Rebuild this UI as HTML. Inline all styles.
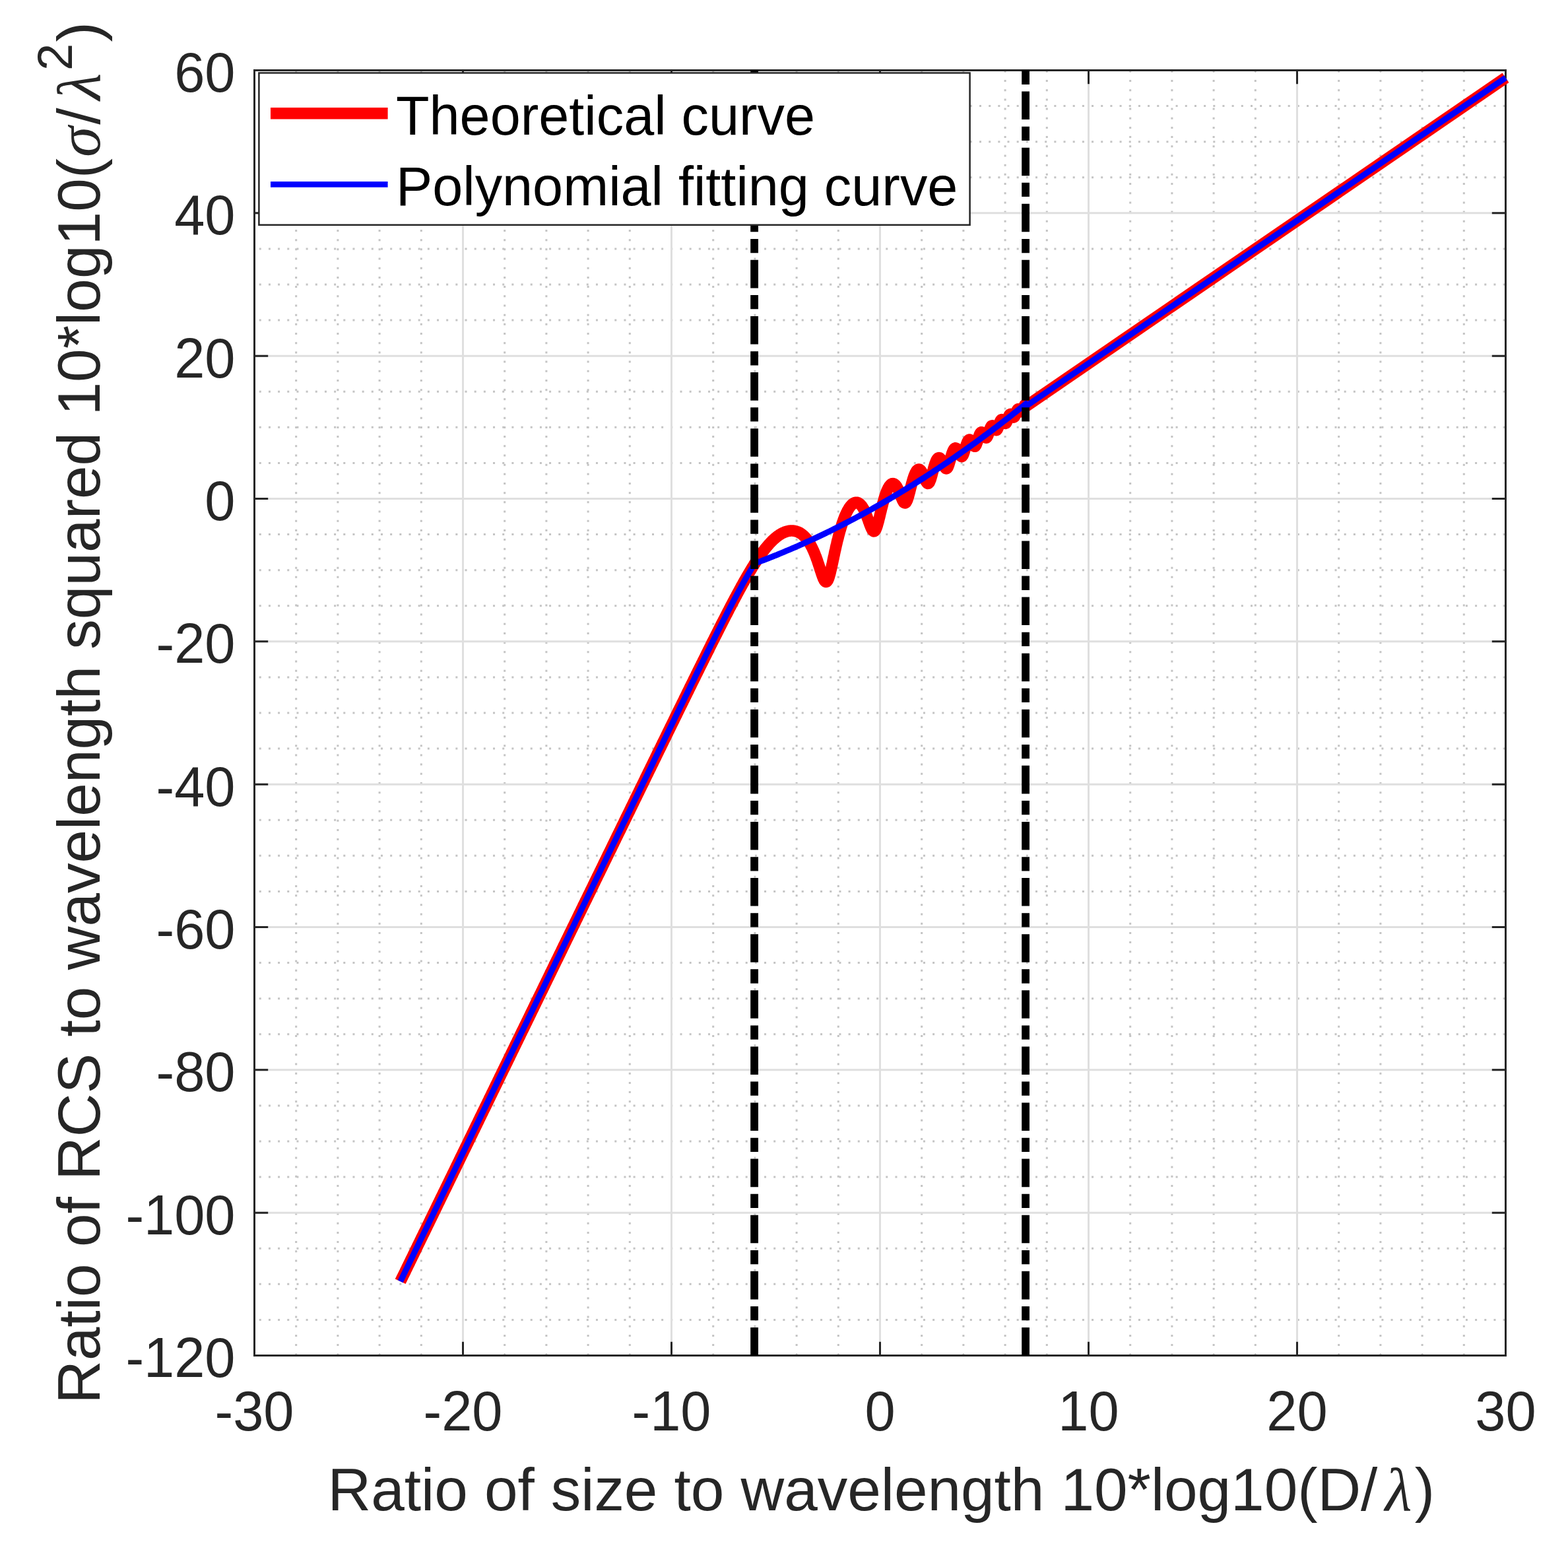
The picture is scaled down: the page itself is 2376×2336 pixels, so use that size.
<!DOCTYPE html><html><head><meta charset="utf-8"><title>RCS plot</title><style>html,body{margin:0;padding:0;background:#fff}svg{display:block}.t{font-family:"Liberation Sans",Arial,Helvetica,sans-serif;fill:#262626}.g{font-family:"Liberation Serif","Times New Roman",serif;font-style:italic}</style></head><body>
<svg width="2376" height="2336" viewBox="0 0 2376 2336">
<rect width="2376" height="2336" fill="#fff"/>
<path d="M448.70 2053.30V106.50M511.90 2053.30V106.50M575.10 2053.30V106.50M638.30 2053.30V106.50M764.70 2053.30V106.50M827.90 2053.30V106.50M891.10 2053.30V106.50M954.30 2053.30V106.50M1080.70 2053.30V106.50M1143.90 2053.30V106.50M1207.10 2053.30V106.50M1270.30 2053.30V106.50M1396.70 2053.30V106.50M1459.90 2053.30V106.50M1523.10 2053.30V106.50M1586.30 2053.30V106.50M1712.70 2053.30V106.50M1775.90 2053.30V106.50M1839.10 2053.30V106.50M1902.30 2053.30V106.50M2028.70 2053.30V106.50M2091.90 2053.30V106.50M2155.10 2053.30V106.50M2218.30 2053.30V106.50" stroke="#c4c4c4" stroke-width="3" fill="none" stroke-dasharray="3 11.186"/>
<path d="M392.75 1999.42H2281.50M392.75 1945.33H2281.50M392.75 1891.25H2281.50M392.75 1783.08H2281.50M392.75 1729.00H2281.50M392.75 1674.92H2281.50M392.75 1566.75H2281.50M392.75 1512.67H2281.50M392.75 1458.58H2281.50M392.75 1350.42H2281.50M392.75 1296.33H2281.50M392.75 1242.25H2281.50M392.75 1134.08H2281.50M392.75 1080.00H2281.50M392.75 1025.92H2281.50M392.75 917.75H2281.50M392.75 863.67H2281.50M392.75 809.58H2281.50M392.75 701.42H2281.50M392.75 647.33H2281.50M392.75 593.25H2281.50M392.75 485.08H2281.50M392.75 431.00H2281.50M392.75 376.92H2281.50M392.75 268.75H2281.50M392.75 214.67H2281.50M392.75 160.58H2281.50" stroke="#c4c4c4" stroke-width="3" fill="none" stroke-dasharray="3 11.172"/>
<path d="M701.50 106.50V2053.50M1017.50 106.50V2053.50M1333.50 106.50V2053.50M1649.50 106.50V2053.50M1965.50 106.50V2053.50M385.50 1837.17H2281.50M385.50 1620.83H2281.50M385.50 1404.50H2281.50M385.50 1188.17H2281.50M385.50 971.83H2281.50M385.50 755.50H2281.50M385.50 539.17H2281.50M385.50 322.83H2281.50" stroke="#dfdfdf" stroke-width="3" fill="none"/>
<path d="M385.50 2053.50V2032.80M385.50 106.50V127.20M701.50 2053.50V2032.80M701.50 106.50V127.20M1017.50 2053.50V2032.80M1017.50 106.50V127.20M1333.50 2053.50V2032.80M1333.50 106.50V127.20M1649.50 2053.50V2032.80M1649.50 106.50V127.20M1965.50 2053.50V2032.80M1965.50 106.50V127.20M2281.50 2053.50V2032.80M2281.50 106.50V127.20M385.50 2053.50H406.20M2281.50 2053.50H2260.80M385.50 1837.17H406.20M2281.50 1837.17H2260.80M385.50 1620.83H406.20M2281.50 1620.83H2260.80M385.50 1404.50H406.20M2281.50 1404.50H2260.80M385.50 1188.17H406.20M2281.50 1188.17H2260.80M385.50 971.83H406.20M2281.50 971.83H2260.80M385.50 755.50H406.20M2281.50 755.50H2260.80M385.50 539.17H406.20M2281.50 539.17H2260.80M385.50 322.83H406.20M2281.50 322.83H2260.80M385.50 106.50H406.20M2281.50 106.50H2260.80" stroke="#262626" stroke-width="3" fill="none"/>
<rect x="385.50" y="106.50" width="1896.00" height="1947.00" stroke="#262626" stroke-width="3" fill="none"/>
<text class="t" transform="translate(385.50 2167.20) scale(1 1.03)" font-size="83" text-anchor="middle">-30</text>
<text class="t" transform="translate(701.50 2167.20) scale(1 1.03)" font-size="83" text-anchor="middle">-20</text>
<text class="t" transform="translate(1017.50 2167.20) scale(1 1.03)" font-size="83" text-anchor="middle">-10</text>
<text class="t" transform="translate(1333.50 2167.20) scale(1 1.03)" font-size="83" text-anchor="middle">0</text>
<text class="t" transform="translate(1649.50 2167.20) scale(1 1.03)" font-size="83" text-anchor="middle">10</text>
<text class="t" transform="translate(1965.50 2167.20) scale(1 1.03)" font-size="83" text-anchor="middle">20</text>
<text class="t" transform="translate(2281.50 2167.20) scale(1 1.03)" font-size="83" text-anchor="middle">30</text>
<text class="t" transform="translate(356.50 2086.10) scale(1 1.03)" font-size="83" text-anchor="end">-120</text>
<text class="t" transform="translate(356.50 1869.77) scale(1 1.03)" font-size="83" text-anchor="end">-100</text>
<text class="t" transform="translate(356.50 1653.43) scale(1 1.03)" font-size="83" text-anchor="end">-80</text>
<text class="t" transform="translate(356.50 1437.10) scale(1 1.03)" font-size="83" text-anchor="end">-60</text>
<text class="t" transform="translate(356.50 1220.77) scale(1 1.03)" font-size="83" text-anchor="end">-40</text>
<text class="t" transform="translate(356.50 1004.43) scale(1 1.03)" font-size="83" text-anchor="end">-20</text>
<text class="t" transform="translate(356.50 788.10) scale(1 1.03)" font-size="83" text-anchor="end">0</text>
<text class="t" transform="translate(356.50 571.77) scale(1 1.03)" font-size="83" text-anchor="end">20</text>
<text class="t" transform="translate(356.50 355.43) scale(1 1.03)" font-size="83" text-anchor="end">40</text>
<text class="t" transform="translate(356.50 139.10) scale(1 1.03)" font-size="83" text-anchor="end">60</text>
<text class="t" y="2287.80" font-size="91"><tspan x="496.60" letter-spacing="-0.07">Ratio of size to wavelength 10*log10(D/</tspan><tspan class="g" x="2098.80" font-size="94">λ</tspan><tspan x="2143.70">)</tspan></text>
<text class="t" transform="translate(151.40 0) rotate(-90)" font-size="91"><tspan x="-2126.80">Ratio of RCS to wavelength squared 10*log10(</tspan><tspan class="g" x="-237.90" font-size="94">σ</tspan><tspan x="-188.70">/</tspan><tspan class="g" x="-151.50" font-size="94">λ</tspan><tspan x="-107.00" y="-42.30" font-size="74">2</tspan><tspan x="-63.60" y="0">)</tspan></text>
<path d="M606.7 1941.2L607.3 1939.9 608.0 1938.6 608.6 1937.3 609.2 1936.0 609.9 1934.7 610.5 1933.4 611.1 1932.1 611.8 1930.8 612.4 1929.6 613.0 1928.3 613.7 1927.0 614.3 1925.7 614.9 1924.4 615.5 1923.1 616.2 1921.8 616.8 1920.5 617.4 1919.2 618.1 1917.9 618.7 1916.6 619.3 1915.3 620.0 1914.0 620.6 1912.7 621.2 1911.4 621.9 1910.1 622.5 1908.8 623.1 1907.5 623.8 1906.2 624.4 1904.9 625.0 1903.6 625.7 1902.3 626.3 1901.0 626.9 1899.7 627.6 1898.4 628.2 1897.1 628.8 1895.8 629.5 1894.5 630.1 1893.2 630.7 1891.9 631.3 1890.6 632.0 1889.3 632.6 1888.0 633.2 1886.7 633.9 1885.4 634.5 1884.1 635.1 1882.8 635.8 1881.5 636.4 1880.2 637.0 1878.9 637.7 1877.6 638.3 1876.3 638.9 1875.0 639.6 1873.7 640.2 1872.4 640.8 1871.1 641.5 1869.8 642.1 1868.5 642.7 1867.2 643.4 1866.0 644.0 1864.7 644.6 1863.4 645.3 1862.1 645.9 1860.8 646.5 1859.5 647.1 1858.2 647.8 1856.9 648.4 1855.6 649.0 1854.3 649.7 1853.0 650.3 1851.7 650.9 1850.4 651.6 1849.1 652.2 1847.8 652.8 1846.5 653.5 1845.2 654.1 1843.9 654.7 1842.6 655.4 1841.3 656.0 1840.0 656.6 1838.7 657.3 1837.4 657.9 1836.1 658.5 1834.8 659.2 1833.5 659.8 1832.2 660.4 1830.9 661.1 1829.6 661.7 1828.3 662.3 1827.0 662.9 1825.7 663.6 1824.4 664.2 1823.1 664.8 1821.8 665.5 1820.5 666.1 1819.2 666.7 1817.9 667.4 1816.6 668.0 1815.3 668.6 1814.0 669.3 1812.7 669.9 1811.4 670.5 1810.1 671.2 1808.8 671.8 1807.5 672.4 1806.2 673.1 1804.9 673.7 1803.6 674.3 1802.4 675.0 1801.1 675.6 1799.8 676.2 1798.5 676.9 1797.2 677.5 1795.9 678.1 1794.6 678.7 1793.3 679.4 1792.0 680.0 1790.7 680.6 1789.4 681.3 1788.1 681.9 1786.8 682.5 1785.5 683.2 1784.2 683.8 1782.9 684.4 1781.6 685.1 1780.3 685.7 1779.0 686.3 1777.7 687.0 1776.4 687.6 1775.1 688.2 1773.8 688.9 1772.5 689.5 1771.2 690.1 1769.9 690.8 1768.6 691.4 1767.3 692.0 1766.0 692.7 1764.7 693.3 1763.4 693.9 1762.1 694.5 1760.8 695.2 1759.5 695.8 1758.2 696.4 1756.9 697.1 1755.6 697.7 1754.3 698.3 1753.0 699.0 1751.7 699.6 1750.4 700.2 1749.1 700.9 1747.8 701.5 1746.5 702.1 1745.2 702.8 1743.9 703.4 1742.6 704.0 1741.3 704.7 1740.0 705.3 1738.8 705.9 1737.5 706.6 1736.2 707.2 1734.9 707.8 1733.6 708.5 1732.3 709.1 1731.0 709.7 1729.7 710.3 1728.4 711.0 1727.1 711.6 1725.8 712.2 1724.5 712.9 1723.2 713.5 1721.9 714.1 1720.6 714.8 1719.3 715.4 1718.0 716.0 1716.7 716.7 1715.4 717.3 1714.1 717.9 1712.8 718.6 1711.5 719.2 1710.2 719.8 1708.9 720.5 1707.6 721.1 1706.3 721.7 1705.0 722.4 1703.7 723.0 1702.4 723.6 1701.1 724.3 1699.8 724.9 1698.5 725.5 1697.2 726.1 1695.9 726.8 1694.6 727.4 1693.3 728.0 1692.0 728.7 1690.7 729.3 1689.4 729.9 1688.1 730.6 1686.8 731.2 1685.5 731.8 1684.2 732.5 1682.9 733.1 1681.6 733.7 1680.3 734.4 1679.0 735.0 1677.8 735.6 1676.5 736.3 1675.2 736.9 1673.9 737.5 1672.6 738.2 1671.3 738.8 1670.0 739.4 1668.7 740.1 1667.4 740.7 1666.1 741.3 1664.8 741.9 1663.5 742.6 1662.2 743.2 1660.9 743.8 1659.6 744.5 1658.3 745.1 1657.0 745.7 1655.7 746.4 1654.4 747.0 1653.1 747.6 1651.8 748.3 1650.5 748.9 1649.2 749.5 1647.9 750.2 1646.6 750.8 1645.3 751.4 1644.0 752.1 1642.7 752.7 1641.4 753.3 1640.1 754.0 1638.8 754.6 1637.5 755.2 1636.2 755.9 1634.9 756.5 1633.6 757.1 1632.3 757.7 1631.0 758.4 1629.7 759.0 1628.4 759.6 1627.1 760.3 1625.8 760.9 1624.5 761.5 1623.2 762.2 1621.9 762.8 1620.6 763.4 1619.3 764.1 1618.0 764.7 1616.8 765.3 1615.5 766.0 1614.2 766.6 1612.9 767.2 1611.6 767.9 1610.3 768.5 1609.0 769.1 1607.7 769.8 1606.4 770.4 1605.1 771.0 1603.8 771.7 1602.5 772.3 1601.2 772.9 1599.9 773.5 1598.6 774.2 1597.3 774.8 1596.0 775.4 1594.7 776.1 1593.4 776.7 1592.1 777.3 1590.8 778.0 1589.5 778.6 1588.2 779.2 1586.9 779.9 1585.6 780.5 1584.3 781.1 1583.0 781.8 1581.7 782.4 1580.4 783.0 1579.1 783.7 1577.8 784.3 1576.5 784.9 1575.2 785.6 1573.9 786.2 1572.6 786.8 1571.3 787.5 1570.0 788.1 1568.7 788.7 1567.4 789.3 1566.1 790.0 1564.8 790.6 1563.5 791.2 1562.2 791.9 1560.9 792.5 1559.7 793.1 1558.4 793.8 1557.1 794.4 1555.8 795.0 1554.5 795.7 1553.2 796.3 1551.9 796.9 1550.6 797.6 1549.3 798.2 1548.0 798.8 1546.7 799.5 1545.4 800.1 1544.1 800.7 1542.8 801.4 1541.5 802.0 1540.2 802.6 1538.9 803.3 1537.6 803.9 1536.3 804.5 1535.0 805.1 1533.7 805.8 1532.4 806.4 1531.1 807.0 1529.8 807.7 1528.5 808.3 1527.2 808.9 1525.9 809.6 1524.6 810.2 1523.3 810.8 1522.0 811.5 1520.7 812.1 1519.4 812.7 1518.1 813.4 1516.8 814.0 1515.5 814.6 1514.2 815.3 1512.9 815.9 1511.6 816.5 1510.3 817.2 1509.0 817.8 1507.7 818.4 1506.4 819.1 1505.1 819.7 1503.9 820.3 1502.6 820.9 1501.3 821.6 1500.0 822.2 1498.7 822.8 1497.4 823.5 1496.1 824.1 1494.8 824.7 1493.5 825.4 1492.2 826.0 1490.9 826.6 1489.6 827.3 1488.3 827.9 1487.0 828.5 1485.7 829.2 1484.4 829.8 1483.1 830.4 1481.8 831.1 1480.5 831.7 1479.2 832.3 1477.9 833.0 1476.6 833.6 1475.3 834.2 1474.0 834.9 1472.7 835.5 1471.4 836.1 1470.1 836.7 1468.8 837.4 1467.5 838.0 1466.2 838.6 1464.9 839.3 1463.6 839.9 1462.3 840.5 1461.0 841.2 1459.7 841.8 1458.4 842.4 1457.1 843.1 1455.8 843.7 1454.5 844.3 1453.3 845.0 1452.0 845.6 1450.7 846.2 1449.4 846.9 1448.1 847.5 1446.8 848.1 1445.5 848.8 1444.2 849.4 1442.9 850.0 1441.6 850.7 1440.3 851.3 1439.0 851.9 1437.7 852.5 1436.4 853.2 1435.1 853.8 1433.8 854.4 1432.5 855.1 1431.2 855.7 1429.9 856.3 1428.6 857.0 1427.3 857.6 1426.0 858.2 1424.7 858.9 1423.4 859.5 1422.1 860.1 1420.8 860.8 1419.5 861.4 1418.2 862.0 1416.9 862.7 1415.6 863.3 1414.3 863.9 1413.0 864.6 1411.7 865.2 1410.4 865.8 1409.1 866.5 1407.8 867.1 1406.6 867.7 1405.3 868.3 1404.0 869.0 1402.7 869.6 1401.4 870.2 1400.1 870.9 1398.8 871.5 1397.5 872.1 1396.2 872.8 1394.9 873.4 1393.6 874.0 1392.3 874.7 1391.0 875.3 1389.7 875.9 1388.4 876.6 1387.1 877.2 1385.8 877.8 1384.5 878.5 1383.2 879.1 1381.9 879.7 1380.6 880.4 1379.3 881.0 1378.0 881.6 1376.7 882.3 1375.4 882.9 1374.1 883.5 1372.8 884.1 1371.5 884.8 1370.2 885.4 1368.9 886.0 1367.6 886.7 1366.3 887.3 1365.0 887.9 1363.8 888.6 1362.5 889.2 1361.2 889.8 1359.9 890.5 1358.6 891.1 1357.3 891.7 1356.0 892.4 1354.7 893.0 1353.4 893.6 1352.1 894.3 1350.8 894.9 1349.5 895.5 1348.2 896.2 1346.9 896.8 1345.6 897.4 1344.3 898.1 1343.0 898.7 1341.7 899.3 1340.4 899.9 1339.1 900.6 1337.8 901.2 1336.5 901.8 1335.2 902.5 1333.9 903.1 1332.6 903.7 1331.3 904.4 1330.0 905.0 1328.7 905.6 1327.4 906.3 1326.1 906.9 1324.9 907.5 1323.6 908.2 1322.3 908.8 1321.0 909.4 1319.7 910.1 1318.4 910.7 1317.1 911.3 1315.8 912.0 1314.5 912.6 1313.2 913.2 1311.9 913.9 1310.6 914.5 1309.3 915.1 1308.0 915.7 1306.7 916.4 1305.4 917.0 1304.1 917.6 1302.8 918.3 1301.5 918.9 1300.2 919.5 1298.9 920.2 1297.6 920.8 1296.3 921.4 1295.0 922.1 1293.7 922.7 1292.4 923.3 1291.1 924.0 1289.9 924.6 1288.6 925.2 1287.3 925.9 1286.0 926.5 1284.7 927.1 1283.4 927.8 1282.1 928.4 1280.8 929.0 1279.5 929.7 1278.2 930.3 1276.9 930.9 1275.6 931.5 1274.3 932.2 1273.0 932.8 1271.7 933.4 1270.4 934.1 1269.1 934.7 1267.8 935.3 1266.5 936.0 1265.2 936.6 1263.9 937.2 1262.6 937.9 1261.3 938.5 1260.1 939.1 1258.8 939.8 1257.5 940.4 1256.2 941.0 1254.9 941.7 1253.6 942.3 1252.3 942.9 1251.0 943.6 1249.7 944.2 1248.4 944.8 1247.1 945.5 1245.8 946.1 1244.5 946.7 1243.2 947.3 1241.9 948.0 1240.6 948.6 1239.3 949.2 1238.0 949.9 1236.7 950.5 1235.4 951.1 1234.1 951.8 1232.9 952.4 1231.6 953.0 1230.3 953.7 1229.0 954.3 1227.7 954.9 1226.4 955.6 1225.1 956.2 1223.8 956.8 1222.5 957.5 1221.2 958.1 1219.9 958.7 1218.6 959.4 1217.3 960.0 1216.0 960.6 1214.7 961.3 1213.4 961.9 1212.1 962.5 1210.8 963.1 1209.5 963.8 1208.3 964.4 1207.0 965.0 1205.7 965.7 1204.4 966.3 1203.1 966.9 1201.8 967.6 1200.5 968.2 1199.2 968.8 1197.9 969.5 1196.6 970.1 1195.3 970.7 1194.0 971.4 1192.7 972.0 1191.4 972.6 1190.1 973.3 1188.8 973.9 1187.6 974.5 1186.3 975.2 1185.0 975.8 1183.7 976.4 1182.4 977.1 1181.1 977.7 1179.8 978.3 1178.5 978.9 1177.2 979.6 1175.9 980.2 1174.6 980.8 1173.3 981.5 1172.0 982.1 1170.7 982.7 1169.4 983.4 1168.1 984.0 1166.9 984.6 1165.6 985.3 1164.3 985.9 1163.0 986.5 1161.7 987.2 1160.4 987.8 1159.1 988.4 1157.8 989.1 1156.5 989.7 1155.2 990.3 1153.9 991.0 1152.6 991.6 1151.3 992.2 1150.1 992.9 1148.8 993.5 1147.5 994.1 1146.2 994.7 1144.9 995.4 1143.6 996.0 1142.3 996.6 1141.0 997.3 1139.7 997.9 1138.4 998.5 1137.1 999.2 1135.8 999.8 1134.6 1000.4 1133.3 1001.1 1132.0 1001.7 1130.7 1002.3 1129.4 1003.0 1128.1 1003.6 1126.8 1004.2 1125.5 1004.9 1124.2 1005.5 1122.9 1006.1 1121.6 1006.8 1120.3 1007.4 1119.1 1008.0 1117.8 1008.7 1116.5 1009.3 1115.2 1009.9 1113.9 1010.5 1112.6 1011.2 1111.3 1011.8 1110.0 1012.4 1108.7 1013.1 1107.4 1013.7 1106.2 1014.3 1104.9 1015.0 1103.6 1015.6 1102.3 1016.2 1101.0 1016.9 1099.7 1017.5 1098.4 1018.1 1097.1 1018.8 1095.8 1019.4 1094.6 1020.0 1093.3 1020.7 1092.0 1021.3 1090.7 1021.9 1089.4 1022.6 1088.1 1023.2 1086.8 1023.8 1085.5 1024.5 1084.2 1025.1 1083.0 1025.7 1081.7 1026.3 1080.4 1027.0 1079.1 1027.6 1077.8 1028.2 1076.5 1028.9 1075.2 1029.5 1073.9 1030.1 1072.7 1030.8 1071.4 1031.4 1070.1 1032.0 1068.8 1032.7 1067.5 1033.3 1066.2 1033.9 1064.9 1034.6 1063.7 1035.2 1062.4 1035.8 1061.1 1036.5 1059.8 1037.1 1058.5 1037.7 1057.2 1038.4 1055.9 1039.0 1054.7 1039.6 1053.4 1040.3 1052.1 1040.9 1050.8 1041.5 1049.5 1042.1 1048.2 1042.8 1047.0 1043.4 1045.7 1044.0 1044.4 1044.7 1043.1 1045.3 1041.8 1045.9 1040.5 1046.6 1039.3 1047.2 1038.0 1047.8 1036.7 1048.5 1035.4 1049.1 1034.1 1049.7 1032.9 1050.4 1031.6 1051.0 1030.3 1051.6 1029.0 1052.3 1027.7 1052.9 1026.5 1053.5 1025.2 1054.2 1023.9 1054.8 1022.6 1055.4 1021.3 1056.1 1020.1 1056.7 1018.8 1057.3 1017.5 1057.9 1016.2 1058.6 1015.0 1059.2 1013.7 1059.8 1012.4 1060.5 1011.1 1061.1 1009.8 1061.7 1008.6 1062.4 1007.3 1063.0 1006.0 1063.6 1004.8 1064.3 1003.5 1064.9 1002.2 1065.5 1000.9 1066.2 999.7 1066.8 998.4 1067.4 997.1 1068.1 995.8 1068.7 994.6 1069.3 993.3 1070.0 992.0 1070.6 990.8 1071.2 989.5 1071.9 988.2 1072.5 987.0 1073.1 985.7 1073.7 984.4 1074.4 983.2 1075.0 981.9 1075.6 980.6 1076.3 979.4 1076.9 978.1 1077.5 976.8 1078.2 975.6 1078.8 974.3 1079.4 973.0 1080.1 971.8 1080.7 970.5 1081.3 969.3 1082.0 968.0 1082.6 966.8 1083.2 965.5 1083.9 964.2 1084.5 963.0 1085.1 961.7 1085.8 960.5 1086.4 959.2 1087.0 958.0 1087.7 956.7 1088.3 955.5 1088.9 954.2 1089.5 953.0 1090.2 951.7 1090.8 950.5 1091.4 949.2 1092.1 948.0 1092.7 946.7 1093.3 945.5 1094.0 944.3 1094.6 943.0 1095.2 941.8 1095.9 940.5 1096.5 939.3 1097.1 938.1 1097.8 936.8 1098.4 935.6 1099.0 934.4 1099.7 933.1 1100.3 931.9 1100.9 930.7 1101.6 929.5 1102.2 928.2 1102.8 927.0 1103.5 925.8 1104.1 924.6 1104.7 923.4 1105.3 922.1 1106.0 920.9 1106.6 919.7 1107.2 918.5 1107.9 917.3 1108.5 916.1 1109.1 914.9 1109.8 913.7 1110.4 912.5 1111.0 911.3 1111.7 910.1 1112.3 908.9 1112.9 907.7 1113.6 906.5 1114.2 905.3 1114.8 904.1 1115.5 903.0 1116.1 901.8 1116.7 900.6 1117.4 899.4 1118.0 898.2 1118.6 897.1 1119.3 895.9 1119.9 894.8 1120.5 893.6 1121.1 892.4 1121.8 891.3 1122.4 890.1 1123.0 889.0 1123.7 887.8 1124.3 886.7 1124.9 885.6 1125.6 884.4 1126.2 883.3 1126.8 882.2 1127.5 881.0 1128.1 879.9 1128.7 878.8 1129.4 877.7 1130.0 876.6 1130.6 875.5 1131.3 874.4 1131.9 873.3 1132.5 872.2 1133.2 871.1 1133.8 870.0 1134.4 869.0 1135.1 867.9 1135.7 866.8 1136.3 865.8 1136.9 864.7 1137.6 863.7 1138.2 862.6 1138.8 861.6 1139.5 860.5 1140.1 859.5 1140.7 858.5 1141.4 857.5 1142.0 856.5 1142.6 855.4 1143.3 854.4 1143.9 853.5 1144.5 852.5 1145.2 851.5 1145.8 850.5 1146.4 849.6 1147.1 848.6 1147.7 847.6 1148.3 846.7 1149.0 845.8 1149.6 844.8 1150.2 843.9 1150.9 843.0 1151.5 842.1 1152.1 841.2 1152.7 840.3 1153.4 839.4 1154.0 838.5 1154.6 837.7 1155.3 836.8 1155.9 836.0 1156.5 835.1 1157.2 834.3 1157.8 833.5 1158.4 832.6 1159.1 831.8 1159.7 831.0 1160.3 830.3 1161.0 829.5 1161.6 828.7 1162.2 828.0 1162.9 827.2 1163.5 826.5 1164.1 825.7 1164.8 825.0 1165.4 824.3 1166.0 823.6 1166.7 822.9 1167.3 822.3 1167.9 821.6 1168.5 820.9 1169.2 820.3 1169.8 819.7 1170.4 819.0 1171.1 818.4 1171.7 817.8 1172.3 817.2 1173.0 816.7 1173.6 816.1 1174.2 815.5 1174.9 815.0 1175.5 814.5 1176.1 814.0 1176.8 813.4 1177.4 813.0 1178.0 812.5 1178.7 812.0 1179.3 811.5 1179.9 811.1 1180.6 810.7 1181.2 810.3 1181.8 809.8 1182.5 809.5 1183.1 809.1 1183.7 808.7 1184.3 808.3 1185.0 808.0 1185.6 807.7 1186.2 807.4 1186.9 807.1 1187.5 806.8 1188.1 806.5 1188.8 806.2 1189.4 806.0 1190.0 805.8 1190.7 805.5 1191.3 805.3 1191.9 805.1 1192.6 805.0 1193.2 804.8 1193.8 804.6 1194.5 804.5 1195.1 804.4 1195.7 804.3 1196.4 804.2 1197.0 804.1 1197.6 804.1 1198.3 804.0 1198.9 804.0 1199.5 804.0 1200.1 804.0 1200.8 804.0 1201.4 804.0 1202.0 804.1 1202.7 804.2 1203.3 804.3 1203.9 804.4 1204.6 804.5 1205.2 804.6 1205.8 804.8 1206.5 805.0 1207.1 805.2 1207.7 805.4 1208.4 805.6 1209.0 805.9 1209.6 806.1 1210.3 806.4 1210.9 806.7 1211.5 807.1 1212.2 807.4 1212.8 807.8 1213.4 808.2 1214.1 808.6 1214.7 809.1 1215.3 809.5 1215.9 810.0 1216.6 810.6 1217.2 811.1 1217.8 811.7 1218.5 812.3 1219.1 812.9 1219.7 813.5 1220.4 814.2 1221.0 814.9 1221.6 815.7 1222.3 816.4 1222.9 817.2 1223.5 818.1 1224.2 818.9 1224.8 819.8 1225.4 820.8 1226.1 821.7 1226.7 822.8 1227.3 823.8 1228.0 824.9 1228.6 826.0 1229.2 827.2 1229.9 828.4 1230.5 829.6 1231.1 830.9 1231.7 832.2 1232.4 833.6 1233.0 835.0 1233.6 836.5 1234.3 838.0 1234.9 839.6 1235.5 841.2 1236.2 842.8 1236.8 844.5 1237.4 846.2 1238.1 848.0 1238.7 849.8 1239.3 851.7 1240.0 853.6 1240.6 855.5 1241.2 857.4 1241.9 859.4 1242.5 861.4 1243.1 863.3 1243.8 865.3 1244.4 867.2 1245.0 869.1 1245.7 871.0 1246.3 872.7 1246.9 874.4 1247.5 876.0 1248.2 877.4 1248.8 878.6 1249.4 879.7 1250.1 880.5 1250.7 881.1 1251.3 881.4 1252.0 881.4 1252.6 881.2 1253.2 880.6 1253.9 879.8 1254.5 878.7 1255.1 877.2 1255.8 875.6 1256.4 873.7 1257.0 871.5 1257.7 869.2 1258.3 866.7 1258.9 864.1 1259.6 861.4 1260.2 858.6 1260.8 855.7 1261.5 852.8 1262.1 849.8 1262.7 846.9 1263.3 843.9 1264.0 841.0 1264.6 838.0 1265.2 835.1 1265.9 832.3 1266.5 829.4 1267.1 826.6 1267.8 823.9 1268.4 821.2 1269.0 818.6 1269.7 816.1 1270.3 813.6 1270.9 811.1 1271.6 808.8 1272.2 806.4 1272.8 804.2 1273.5 802.0 1274.1 799.9 1274.7 797.8 1275.4 795.8 1276.0 793.8 1276.6 791.9 1277.3 790.1 1277.9 788.3 1278.5 786.6 1279.1 785.0 1279.8 783.4 1280.4 781.8 1281.0 780.4 1281.7 778.9 1282.3 777.6 1282.9 776.3 1283.6 775.0 1284.2 773.8 1284.8 772.7 1285.5 771.6 1286.1 770.5 1286.7 769.5 1287.4 768.6 1288.0 767.7 1288.6 766.9 1289.3 766.2 1289.9 765.4 1290.5 764.8 1291.2 764.2 1291.8 763.6 1292.4 763.1 1293.1 762.7 1293.7 762.3 1294.3 762.0 1294.9 761.7 1295.6 761.5 1296.2 761.4 1296.8 761.3 1297.5 761.2 1298.1 761.2 1298.7 761.3 1299.4 761.5 1300.0 761.7 1300.6 761.9 1301.3 762.3 1301.9 762.7 1302.5 763.1 1303.2 763.6 1303.8 764.2 1304.4 764.9 1305.1 765.6 1305.7 766.4 1306.3 767.3 1307.0 768.3 1307.6 769.3 1308.2 770.3 1308.9 771.5 1309.5 772.7 1310.1 774.0 1310.7 775.4 1311.4 776.8 1312.0 778.3 1312.6 779.9 1313.3 781.5 1313.9 783.1 1314.5 784.8 1315.2 786.5 1315.8 788.3 1316.4 790.1 1317.1 791.8 1317.7 793.6 1318.3 795.3 1319.0 796.9 1319.6 798.5 1320.2 799.9 1320.9 801.3 1321.5 802.4 1322.1 803.4 1322.8 804.1 1323.4 804.6 1324.0 804.9 1324.7 804.8 1325.3 804.5 1325.9 803.9 1326.5 803.0 1327.2 801.8 1327.8 800.4 1328.4 798.7 1329.1 796.8 1329.7 794.7 1330.3 792.5 1331.0 790.2 1331.6 787.7 1332.2 785.2 1332.9 782.6 1333.5 780.0 1334.1 777.3 1334.8 774.7 1335.4 772.1 1336.0 769.6 1336.7 767.1 1337.3 764.6 1337.9 762.2 1338.6 759.9 1339.2 757.7 1339.8 755.5 1340.5 753.4 1341.1 751.4 1341.7 749.6 1342.3 747.7 1343.0 746.0 1343.6 744.4 1344.2 742.9 1344.9 741.5 1345.5 740.2 1346.1 739.0 1346.8 737.9 1347.4 736.9 1348.0 736.0 1348.7 735.2 1349.3 734.5 1349.9 733.9 1350.6 733.4 1351.2 733.1 1351.8 732.8 1352.5 732.7 1353.1 732.6 1353.7 732.7 1354.4 732.9 1355.0 733.2 1355.6 733.6 1356.3 734.1 1356.9 734.8 1357.5 735.5 1358.1 736.4 1358.8 737.4 1359.4 738.4 1360.0 739.6 1360.7 740.9 1361.3 742.2 1361.9 743.7 1362.6 745.2 1363.2 746.7 1363.8 748.3 1364.5 750.0 1365.1 751.6 1365.7 753.2 1366.4 754.8 1367.0 756.3 1367.6 757.7 1368.3 759.0 1368.9 760.1 1369.5 761.0 1370.2 761.6 1370.8 762.0 1371.4 762.0 1372.1 761.8 1372.7 761.3 1373.3 760.4 1373.9 759.3 1374.6 757.8 1375.2 756.2 1375.8 754.3 1376.5 752.2 1377.1 749.9 1377.7 747.6 1378.4 745.2 1379.0 742.7 1379.6 740.2 1380.3 737.7 1380.9 735.3 1381.5 732.9 1382.2 730.6 1382.8 728.4 1383.4 726.2 1384.1 724.2 1384.7 722.3 1385.3 720.6 1386.0 719.0 1386.6 717.5 1387.2 716.1 1387.9 715.0 1388.5 713.9 1389.1 713.0 1389.7 712.3 1390.4 711.8 1391.0 711.4 1391.6 711.1 1392.3 711.0 1392.9 711.1 1393.5 711.4 1394.2 711.8 1394.8 712.3 1395.4 713.0 1396.1 713.9 1396.7 714.8 1397.3 716.0 1398.0 717.2 1398.6 718.5 1399.2 720.0 1399.9 721.4 1400.5 723.0 1401.1 724.5 1401.8 726.0 1402.4 727.5 1403.0 728.8 1403.7 730.0 1404.3 731.0 1404.9 731.8 1405.5 732.3 1406.2 732.5 1406.8 732.3 1407.4 731.8 1408.1 731.0 1408.7 729.8 1409.3 728.3 1410.0 726.6 1410.6 724.6 1411.2 722.5 1411.9 720.2 1412.5 717.9 1413.1 715.5 1413.8 713.1 1414.4 710.8 1415.0 708.5 1415.7 706.4 1416.3 704.3 1416.9 702.4 1417.6 700.7 1418.2 699.1 1418.8 697.7 1419.5 696.5 1420.1 695.5 1420.7 694.7 1421.3 694.1 1422.0 693.8 1422.6 693.6 1423.2 693.6 1423.9 693.8 1424.5 694.3 1425.1 694.9 1425.8 695.7 1426.4 696.6 1427.0 697.8 1427.7 699.0 1428.3 700.4 1428.9 701.8 1429.6 703.2 1430.2 704.6 1430.8 706.0 1431.5 707.2 1432.1 708.3 1432.7 709.1 1433.4 709.7 1434.0 709.9 1434.6 709.7 1435.3 709.2 1435.9 708.3 1436.5 707.1 1437.1 705.5 1437.8 703.7 1438.4 701.6 1439.0 699.5 1439.7 697.2 1440.3 694.9 1440.9 692.7 1441.6 690.5 1442.2 688.4 1442.8 686.5 1443.5 684.7 1444.1 683.2 1444.7 681.9 1445.4 680.8 1446.0 679.9 1446.6 679.3 1447.3 678.9 1447.9 678.8 1448.5 679.0 1449.2 679.3 1449.8 679.9 1450.4 680.7 1451.1 681.7 1451.7 682.9 1452.3 684.1 1452.9 685.5 1453.6 686.8 1454.2 688.1 1454.8 689.3 1455.5 690.4 1456.1 691.1 1456.7 691.6 1457.4 691.6 1458.0 691.3 1458.6 690.6 1459.3 689.5 1459.9 688.0 1460.5 686.3 1461.2 684.3 1461.8 682.2 1462.4 680.0 1463.1 677.8 1463.7 675.7 1464.3 673.7 1465.0 671.9 1465.6 670.3 1466.2 668.9 1466.9 667.8 1467.5 666.9 1468.1 666.4 1468.7 666.1 1469.4 666.1 1470.0 666.4 1470.6 667.0 1471.3 667.7 1471.9 668.7 1472.5 669.9 1473.2 671.1 1473.8 672.4 1474.4 673.6 1475.1 674.7 1475.7 675.6 1476.3 676.1 1477.0 676.3 1477.6 676.2 1478.2 675.5 1478.9 674.5 1479.5 673.1 1480.1 671.4 1480.8 669.5 1481.4 667.4 1482.0 665.3 1482.7 663.2 1483.3 661.3 1483.9 659.5 1484.5 658.0 1485.2 656.8 1485.8 655.8 1486.4 655.2 1487.1 654.9 1487.7 654.9 1488.3 655.2 1489.0 655.8 1489.6 656.6 1490.2 657.6 1490.9 658.8 1491.5 659.9 1492.1 661.1 1492.8 662.0 1493.4 662.8 1494.0 663.2 1494.7 663.1 1495.3 662.7 1495.9 661.7 1496.6 660.4 1497.2 658.8 1497.8 656.9 1498.5 654.9 1499.1 652.9 1499.7 651.0 1500.3 649.2 1501.0 647.7 1501.6 646.5 1502.2 645.5 1502.9 645.0 1503.5 644.8 1504.1 644.9 1504.8 645.3 1505.4 646.1 1506.0 647.0 1506.7 648.1 1507.3 649.2 1507.9 650.2 1508.6 651.0 1509.2 651.5 1509.8 651.6 1510.5 651.3 1511.1 650.5 1511.7 649.3 1512.4 647.7 1513.0 645.9 1513.6 644.0 1514.3 642.1 1514.9 640.3 1515.5 638.7 1516.1 637.4 1516.8 636.4 1517.4 635.8 1518.0 635.6 1518.7 635.8 1519.3 636.3 1519.9 637.1 1520.6 638.0 1521.2 639.0 1521.8 640.0 1522.5 640.8 1523.1 641.3 1523.7 641.4 1524.4 641.0 1525.0 640.1 1525.6 638.8 1526.3 637.2 1526.9 635.4 1527.5 633.5 1528.2 631.8 1528.8 630.2 1529.4 628.9 1530.1 628.0 1530.7 627.5 1531.3 627.3 1531.9 627.6 1532.6 628.2 1533.2 629.0 1533.8 629.9 1534.5 630.8 1535.1 631.6 1535.7 632.1 1536.4 632.1 1537.0 631.6 1537.6 630.7 1538.3 629.4 1538.9 627.7 1539.5 625.9 1540.2 624.2 1540.8 622.6 1541.4 621.3 1542.1 620.3 1542.7 619.8 1543.3 619.7 1544.0 619.9 1544.6 620.5 1545.2 621.4 1545.9 622.2 1546.5 623.0 1547.1 623.6 1547.7 623.7 1548.4 623.4 1549.0 622.5 1549.6 621.3 1550.3 619.7 1550.9 618.0 1551.5 616.3 1552.2 614.8 1552.8 613.6 1553.4 612.9 1554.1 612.6 1554.7 612.7 1554.7 615.4 2281.5 117.8" stroke="#ff0000" stroke-width="17.6" fill="none" stroke-linejoin="round" stroke-linecap="butt"/>
<path d="M606.7 1941.2L608.3 1938.0 609.9 1934.7 611.4 1931.5 613.0 1928.3 614.6 1925.0 616.2 1921.8 617.8 1918.5 619.3 1915.3 620.9 1912.0 622.5 1908.8 624.1 1905.5 625.7 1902.3 627.2 1899.0 628.8 1895.8 630.4 1892.6 632.0 1889.3 633.6 1886.1 635.1 1882.8 636.7 1879.6 638.3 1876.3 639.9 1873.1 641.5 1869.8 643.0 1866.6 644.6 1863.4 646.2 1860.1 647.8 1856.9 649.4 1853.6 650.9 1850.4 652.5 1847.1 654.1 1843.9 655.7 1840.6 657.3 1837.4 658.8 1834.1 660.4 1830.9 662.0 1827.7 663.6 1824.4 665.2 1821.2 666.7 1817.9 668.3 1814.7 669.9 1811.4 671.5 1808.2 673.1 1804.9 674.6 1801.7 676.2 1798.5 677.8 1795.2 679.4 1792.0 681.0 1788.7 682.5 1785.5 684.1 1782.2 685.7 1779.0 687.3 1775.7 688.9 1772.5 690.4 1769.3 692.0 1766.0 693.6 1762.8 695.2 1759.5 696.8 1756.3 698.3 1753.0 699.9 1749.8 701.5 1746.5 703.1 1743.3 704.7 1740.0 706.2 1736.8 707.8 1733.6 709.4 1730.3 711.0 1727.1 712.6 1723.8 714.1 1720.6 715.7 1717.3 717.3 1714.1 718.9 1710.8 720.5 1707.6 722.0 1704.4 723.6 1701.1 725.2 1697.9 726.8 1694.6 728.4 1691.4 729.9 1688.1 731.5 1684.9 733.1 1681.6 734.7 1678.4 736.3 1675.2 737.8 1671.9 739.4 1668.7 741.0 1665.4 742.6 1662.2 744.2 1658.9 745.7 1655.7 747.3 1652.4 748.9 1649.2 750.5 1646.0 752.1 1642.7 753.6 1639.5 755.2 1636.2 756.8 1633.0 758.4 1629.7 760.0 1626.5 761.5 1623.2 763.1 1620.0 764.7 1616.8 766.3 1613.5 767.9 1610.3 769.4 1607.0 771.0 1603.8 772.6 1600.5 774.2 1597.3 775.8 1594.0 777.3 1590.8 778.9 1587.6 780.5 1584.3 782.1 1581.1 783.7 1577.8 785.2 1574.6 786.8 1571.3 788.4 1568.1 790.0 1564.8 791.6 1561.6 793.1 1558.4 794.7 1555.1 796.3 1551.9 797.9 1548.6 799.5 1545.4 801.0 1542.1 802.6 1538.9 804.2 1535.6 805.8 1532.4 807.4 1529.2 808.9 1525.9 810.5 1522.7 812.1 1519.4 813.7 1516.2 815.3 1512.9 816.8 1509.7 818.4 1506.4 820.0 1503.2 821.6 1500.0 823.2 1496.7 824.7 1493.5 826.3 1490.2 827.9 1487.0 829.5 1483.7 831.1 1480.5 832.6 1477.3 834.2 1474.0 835.8 1470.8 837.4 1467.5 839.0 1464.3 840.5 1461.0 842.1 1457.8 843.7 1454.5 845.3 1451.3 846.9 1448.1 848.4 1444.8 850.0 1441.6 851.6 1438.3 853.2 1435.1 854.8 1431.8 856.3 1428.6 857.9 1425.4 859.5 1422.1 861.1 1418.9 862.7 1415.6 864.2 1412.4 865.8 1409.1 867.4 1405.9 869.0 1402.7 870.6 1399.4 872.1 1396.2 873.7 1392.9 875.3 1389.7 876.9 1386.4 878.5 1383.2 880.0 1380.0 881.6 1376.7 883.2 1373.5 884.8 1370.2 886.4 1367.0 887.9 1363.8 889.5 1360.5 891.1 1357.3 892.7 1354.0 894.3 1350.8 895.8 1347.5 897.4 1344.3 899.0 1341.1 900.6 1337.8 902.2 1334.6 903.7 1331.3 905.3 1328.1 906.9 1324.9 908.5 1321.6 910.1 1318.4 911.6 1315.1 913.2 1311.9 914.8 1308.6 916.4 1305.4 918.0 1302.2 919.5 1298.9 921.1 1295.7 922.7 1292.4 924.3 1289.2 925.9 1286.0 927.4 1282.7 929.0 1279.5 930.6 1276.2 932.2 1273.0 933.8 1269.8 935.3 1266.5 936.9 1263.3 938.5 1260.1 940.1 1256.8 941.7 1253.6 943.2 1250.3 944.8 1247.1 946.4 1243.9 948.0 1240.6 949.6 1237.4 951.1 1234.1 952.7 1230.9 954.3 1227.7 955.9 1224.4 957.5 1221.2 959.0 1218.0 960.6 1214.7 962.2 1211.5 963.8 1208.3 965.4 1205.0 966.9 1201.8 968.5 1198.5 970.1 1195.3 971.7 1192.1 973.3 1188.8 974.8 1185.6 976.4 1182.4 978.0 1179.1 979.6 1175.9 981.2 1172.7 982.7 1169.4 984.3 1166.2 985.9 1163.0 987.5 1159.7 989.1 1156.5 990.6 1153.3 992.2 1150.1 993.8 1146.8 995.4 1143.6 997.0 1140.4 998.5 1137.1 1000.1 1133.9 1001.7 1130.7 1003.3 1127.4 1004.9 1124.2 1006.4 1121.0 1008.0 1117.8 1009.6 1114.5 1011.2 1111.3 1012.8 1108.1 1014.3 1104.9 1015.9 1101.6 1017.5 1098.4 1019.1 1095.2 1020.7 1092.0 1022.2 1088.8 1023.8 1085.5 1025.4 1082.3 1027.0 1079.1 1028.6 1075.9 1030.1 1072.7 1031.7 1069.4 1033.3 1066.2 1034.9 1063.0 1036.5 1059.8 1038.0 1056.6 1039.6 1053.4 1041.2 1050.2 1042.8 1047.0 1044.4 1043.8 1045.9 1040.5 1047.5 1037.3 1049.1 1034.1 1050.7 1030.9 1052.3 1027.7 1053.8 1024.5 1055.4 1021.3 1057.0 1018.1 1058.6 1015.0 1060.2 1011.8 1061.7 1008.6 1063.3 1005.4 1064.9 1002.2 1066.5 999.0 1068.1 995.8 1069.6 992.7 1071.2 989.5 1072.8 986.3 1074.4 983.2 1076.0 980.0 1077.5 976.8 1079.1 973.7 1080.7 970.5 1082.3 967.4 1083.9 964.2 1085.4 961.1 1087.0 958.0 1088.6 954.8 1090.2 951.7 1091.8 948.6 1093.3 945.5 1094.9 942.4 1096.5 939.3 1098.1 936.2 1099.7 933.1 1101.2 930.1 1102.8 927.0 1104.4 924.0 1106.0 920.9 1107.6 917.9 1109.1 914.9 1110.7 911.9 1112.3 908.9 1113.9 905.9 1115.5 903.0 1117.0 900.0 1118.6 897.1 1120.2 894.2 1121.8 891.3 1123.4 888.4 1124.9 885.6 1126.5 882.7 1128.1 879.9 1129.7 877.1 1131.3 874.4 1132.8 871.7 1134.4 869.0 1136.0 866.3 1137.6 863.7 1139.2 861.0 1140.7 858.5 1142.3 856.0 1147.1 852.3 1150.2 851.1 1153.4 849.9 1156.5 848.7 1159.7 847.5 1162.9 846.3 1166.0 845.0 1169.2 843.8 1172.3 842.5 1175.5 841.3 1178.7 840.0 1181.8 838.7 1185.0 837.4 1188.1 836.1 1191.3 834.7 1194.5 833.4 1197.6 832.1 1200.8 830.7 1203.9 829.3 1207.1 828.0 1210.3 826.6 1213.4 825.2 1216.6 823.8 1219.7 822.3 1222.9 820.9 1226.1 819.5 1229.2 818.0 1232.4 816.6 1235.5 815.1 1238.7 813.6 1241.9 812.1 1245.0 810.6 1248.2 809.1 1251.3 807.6 1254.5 806.0 1257.7 804.5 1260.8 802.9 1264.0 801.3 1267.1 799.8 1270.3 798.2 1273.5 796.6 1276.6 795.0 1279.8 793.3 1282.9 791.7 1286.1 790.1 1289.3 788.4 1292.4 786.8 1295.6 785.1 1298.7 783.4 1301.9 781.7 1305.1 780.0 1308.2 778.3 1311.4 776.5 1314.5 774.8 1317.7 773.1 1320.9 771.3 1324.0 769.5 1327.2 767.7 1330.3 766.0 1333.5 764.2 1336.7 762.3 1339.8 760.5 1343.0 758.7 1346.1 756.8 1349.3 755.0 1352.5 753.1 1355.6 751.2 1358.8 749.4 1361.9 747.5 1365.1 745.5 1368.3 743.6 1371.4 741.7 1374.6 739.8 1377.7 737.8 1380.9 735.8 1384.1 733.9 1387.2 731.9 1390.4 729.9 1393.5 727.9 1396.7 725.9 1399.9 723.9 1403.0 721.8 1406.2 719.8 1409.3 717.7 1412.5 715.7 1415.7 713.6 1418.8 711.5 1422.0 709.4 1425.1 707.3 1428.3 705.2 1431.5 703.0 1434.6 700.9 1437.8 698.7 1440.9 696.6 1444.1 694.4 1447.3 692.2 1450.4 690.0 1453.6 687.8 1456.7 685.6 1459.9 683.4 1463.1 681.1 1466.2 678.9 1469.4 676.6 1472.5 674.4 1475.7 672.1 1478.9 669.8 1482.0 667.5 1485.2 665.2 1488.3 662.8 1491.5 660.5 1494.7 658.2 1497.8 655.8 1501.0 653.5 1504.1 651.1 1507.3 648.7 1510.5 646.3 1513.6 643.9 1516.8 641.5 1519.9 639.0 1523.1 636.6 1526.3 634.2 1529.4 631.7 1532.6 629.2 1535.7 626.7 1538.9 624.3 1542.1 621.7 1545.2 619.2 1548.4 616.7 1551.5 614.2 1554.7 611.6 1554.7 615.4 2281.5 117.8" stroke="#0000ff" stroke-width="9" fill="none" stroke-linejoin="round" stroke-linecap="butt"/>
<path d="M1143.10 2053.50V106.50" stroke="#000" stroke-width="11.8" fill="none" stroke-dasharray="42.55 10.64 21.28 10.64"/>
<path d="M1554.10 2053.50V106.50" stroke="#000" stroke-width="11.8" fill="none" stroke-dasharray="42.55 10.64 21.28 10.64"/>
<rect x="392.40" y="110.45" width="1077.20" height="230.30" fill="#fff" stroke="#262626" stroke-width="2.5"/>
<path d="M410 171.7H587.6" stroke="#ff0000" stroke-width="17.6"/>
<path d="M410 279.35H587.6" stroke="#0000ff" stroke-width="8.7"/>
<text x="600.00" y="204.00" font-size="82.8" style="font-family:'Liberation Sans',Arial,sans-serif" fill="#000">Theoretical curve</text>
<text x="600.00" y="310.90" font-size="82.8" style="font-family:'Liberation Sans',Arial,sans-serif" fill="#000">Polynomial fitting curve</text>
</svg></body></html>
